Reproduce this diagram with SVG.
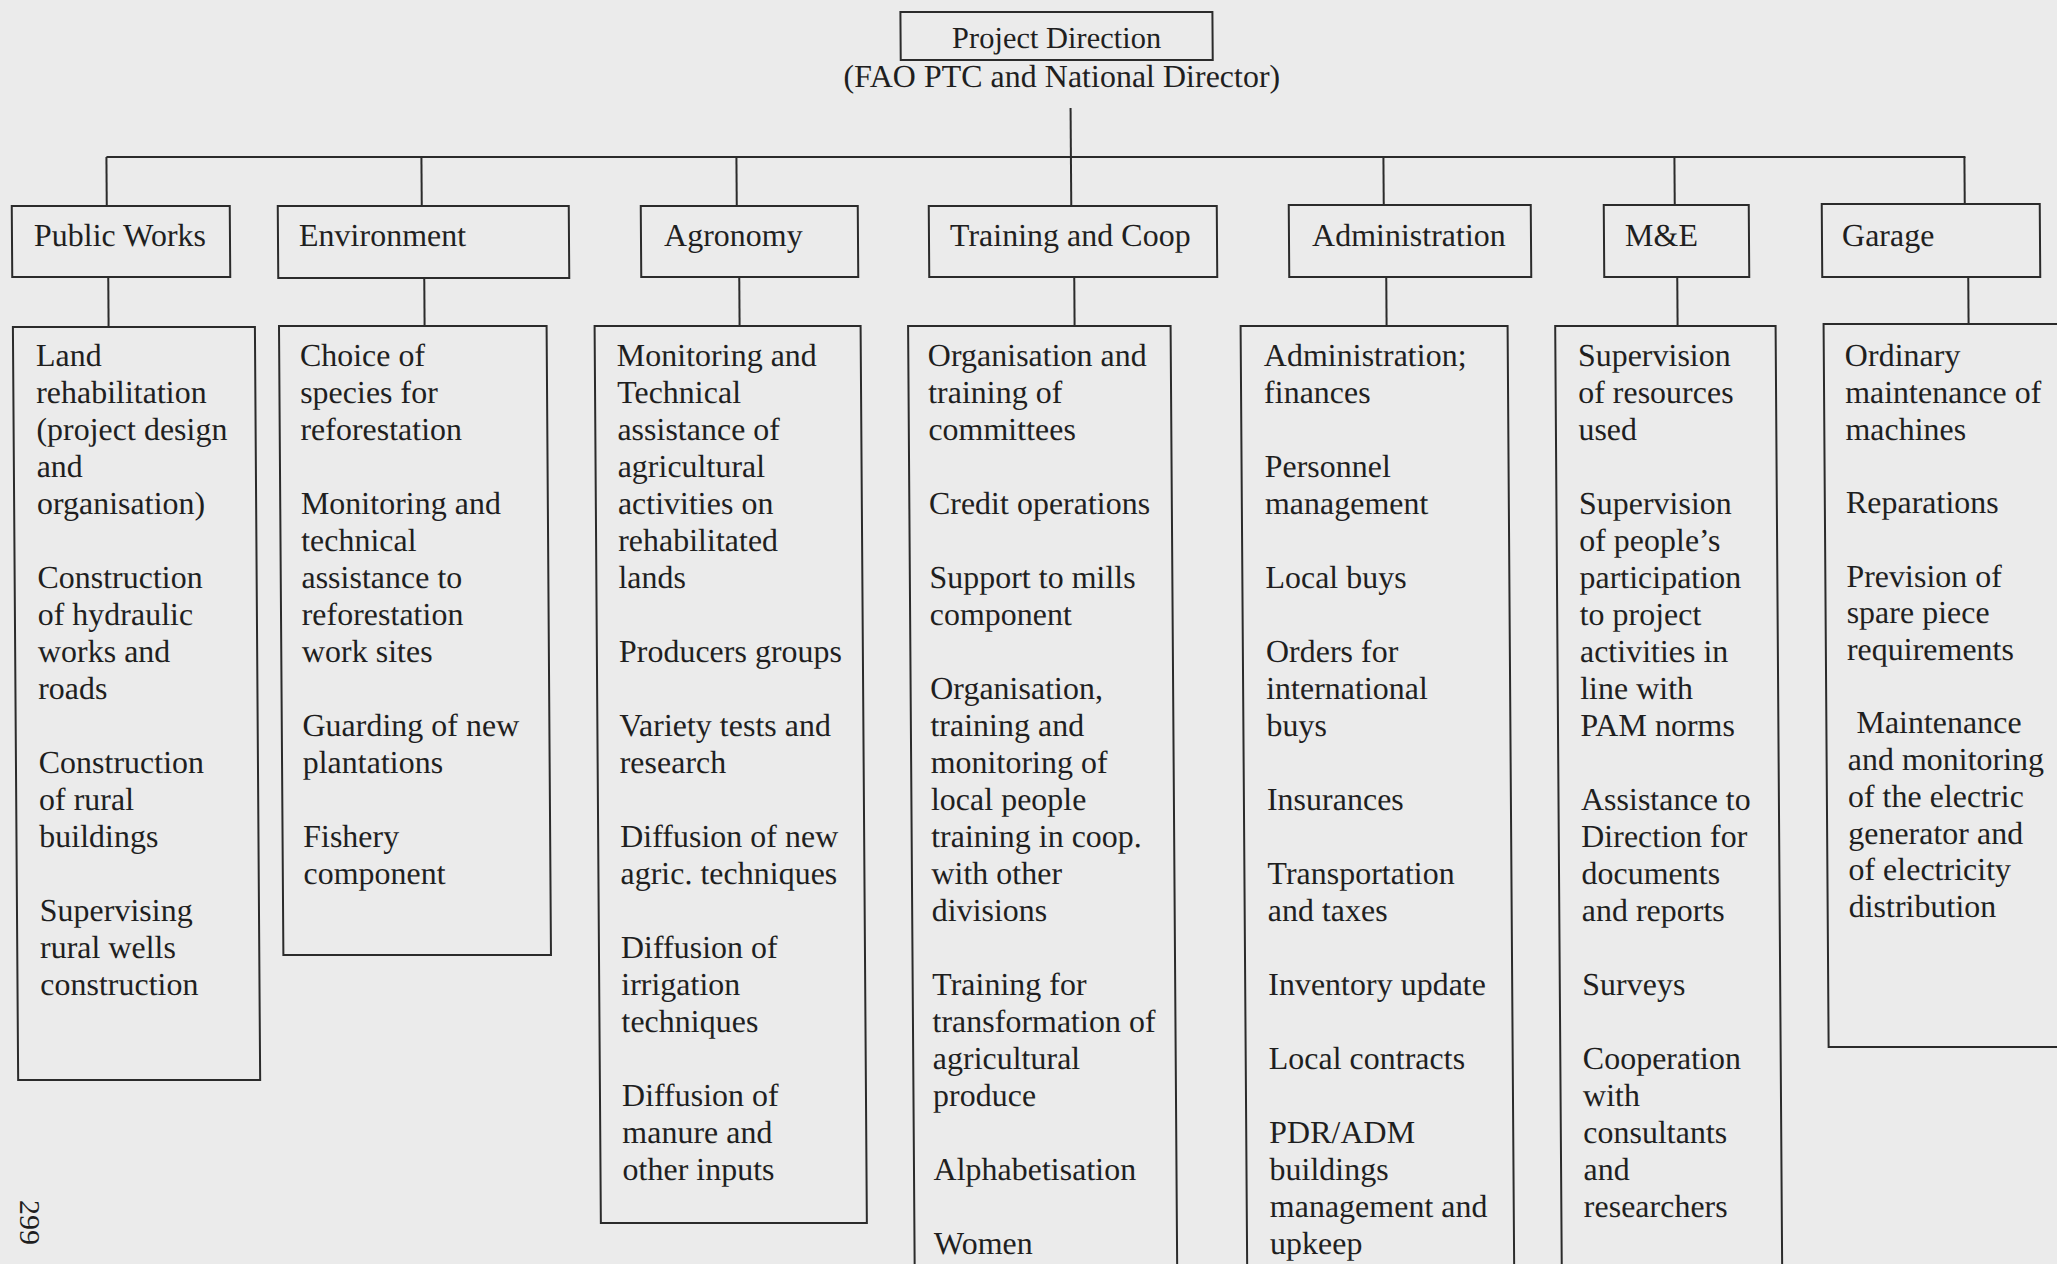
<svg xmlns="http://www.w3.org/2000/svg" width="2057" height="1264" viewBox="0 0 2057 1264">
<style>
.bx{fill:none;stroke:#2b2b2b;stroke-width:2}
.cn line{stroke:#2b2b2b;stroke-width:2}
.t{font-family:"Liberation Serif","Times New Roman",serif;font-size:32px;fill:#1f1f1f}
</style>
<rect x="0" y="0" width="2057" height="1264" fill="#ebebeb"/>
<g transform="translate(-1.68,0) skewX(0.4)">
<g id="project-direction">
<rect class="bx" x="902" y="12" width="312" height="48"/>
<text class="t" x="1058" y="48" text-anchor="middle" style="font-size:30.5px">Project Direction</text>
<text class="t" x="1063" y="87" text-anchor="middle">(FAO PTC and National Director)</text>
</g>
<g id="connectors" class="cn">
<line x1="1071.5" y1="108" x2="1071.5" y2="206"/>
<line x1="107" y1="157" x2="1966" y2="157"/>
<line x1="107" y1="157" x2="107" y2="206"/>
<line x1="422" y1="157" x2="422" y2="206"/>
<line x1="737" y1="157" x2="737" y2="206"/>
<line x1="1384" y1="157" x2="1384" y2="205"/>
<line x1="1675" y1="157" x2="1675" y2="205"/>
<line x1="1965" y1="157" x2="1965" y2="204"/>
<line x1="108" y1="277" x2="108" y2="327"/>
<line x1="424" y1="278" x2="424" y2="326"/>
<line x1="739" y1="277" x2="739" y2="326"/>
<line x1="1074" y1="277" x2="1074" y2="326"/>
<line x1="1386" y1="277" x2="1386" y2="326"/>
<line x1="1677" y1="277" x2="1677" y2="326"/>
<line x1="1968" y1="277" x2="1968" y2="324"/>
</g>
<g id="public-works">
<rect class="bx" x="12" y="206" width="218" height="71"/>
<text class="t" x="34" y="246">Public Works</text>
</g>
<g id="environment">
<rect class="bx" x="278" y="206" width="291" height="72"/>
<text class="t" x="299" y="246">Environment</text>
</g>
<g id="agronomy">
<rect class="bx" x="641" y="206" width="217" height="71"/>
<text class="t" x="664" y="246">Agronomy</text>
</g>
<g id="training">
<rect class="bx" x="929" y="206" width="288" height="71"/>
<text class="t" x="950" y="246">Training and Coop</text>
</g>
<g id="administration">
<rect class="bx" x="1289" y="205" width="242" height="72"/>
<text class="t" x="1312" y="246">Administration</text>
</g>
<g id="me">
<rect class="bx" x="1604" y="205" width="145" height="72"/>
<text class="t" x="1625" y="246">M&amp;E</text>
</g>
<g id="garage">
<rect class="bx" x="1822" y="204" width="218" height="73"/>
<text class="t" x="1842" y="246">Garage</text>
</g>
<g id="public-works-tasks">
<rect class="bx" x="12.3" y="327" width="242" height="753"/>
<text class="t">
<tspan x="35" y="366.5">Land</tspan>
<tspan x="35" y="403.5">rehabilitation</tspan>
<tspan x="35" y="440.5">(project design</tspan>
<tspan x="35" y="477.5">and</tspan>
<tspan x="35" y="514.5">organisation)</tspan>
<tspan x="35" y="588.5">Construction</tspan>
<tspan x="35" y="625.5">of hydraulic</tspan>
<tspan x="35" y="662.5">works and</tspan>
<tspan x="35" y="699.5">roads</tspan>
<tspan x="35" y="773.5">Construction</tspan>
<tspan x="35" y="810.5">of rural</tspan>
<tspan x="35" y="847.5">buildings</tspan>
<tspan x="35" y="921.5">Supervising</tspan>
<tspan x="35" y="958.5">rural wells</tspan>
<tspan x="35" y="995.5">construction</tspan>
</text>
</g>
<g id="environment-tasks">
<rect class="bx" x="278.4" y="326" width="267.6" height="629"/>
<text class="t">
<tspan x="299" y="366.5">Choice of</tspan>
<tspan x="299" y="403.5">species for</tspan>
<tspan x="299" y="440.5">reforestation</tspan>
<tspan x="299" y="514.5">Monitoring and</tspan>
<tspan x="299" y="551.5">technical</tspan>
<tspan x="299" y="588.5">assistance to</tspan>
<tspan x="299" y="625.5">reforestation</tspan>
<tspan x="299" y="662.5">work sites</tspan>
<tspan x="299" y="736.5">Guarding of new</tspan>
<tspan x="299" y="773.5">plantations</tspan>
<tspan x="299" y="847.5">Fishery</tspan>
<tspan x="299" y="884.5">component</tspan>
</text>
</g>
<g id="agronomy-tasks">
<rect class="bx" x="594" y="326" width="266" height="897"/>
<text class="t">
<tspan x="616" y="366.5">Monitoring and</tspan>
<tspan x="616" y="403.5">Technical</tspan>
<tspan x="616" y="440.5">assistance of</tspan>
<tspan x="616" y="477.5">agricultural</tspan>
<tspan x="616" y="514.5">activities on</tspan>
<tspan x="616" y="551.5">rehabilitated</tspan>
<tspan x="616" y="588.5">lands</tspan>
<tspan x="616" y="662.5">Producers groups</tspan>
<tspan x="616" y="736.5">Variety tests and</tspan>
<tspan x="616" y="773.5">research</tspan>
<tspan x="616" y="847.5">Diffusion of new</tspan>
<tspan x="616" y="884.5">agric. techniques</tspan>
<tspan x="616" y="958.5">Diffusion of</tspan>
<tspan x="616" y="995.5">irrigation</tspan>
<tspan x="616" y="1032.5">techniques</tspan>
<tspan x="616" y="1106.5">Diffusion of</tspan>
<tspan x="616" y="1143.5">manure and</tspan>
<tspan x="616" y="1180.5">other inputs</tspan>
</text>
</g>
<g id="training-tasks">
<rect class="bx" x="907.5" y="326" width="262.5" height="960"/>
<text class="t">
<tspan x="927" y="366.5">Organisation and</tspan>
<tspan x="927" y="403.5">training of</tspan>
<tspan x="927" y="440.5">committees</tspan>
<tspan x="927" y="514.5">Credit operations</tspan>
<tspan x="927" y="588.5">Support to mills</tspan>
<tspan x="927" y="625.5">component</tspan>
<tspan x="927" y="699.5">Organisation,</tspan>
<tspan x="927" y="736.5">training and</tspan>
<tspan x="927" y="773.5">monitoring of</tspan>
<tspan x="927" y="810.5">local people</tspan>
<tspan x="927" y="847.5">training in coop.</tspan>
<tspan x="927" y="884.5">with other</tspan>
<tspan x="927" y="921.5">divisions</tspan>
<tspan x="927" y="995.5">Training for</tspan>
<tspan x="927" y="1032.5">transformation of</tspan>
<tspan x="927" y="1069.5">agricultural</tspan>
<tspan x="927" y="1106.5">produce</tspan>
<tspan x="927" y="1180.5">Alphabetisation</tspan>
<tspan x="927" y="1254.5">Women</tspan>
</text>
</g>
<g id="administration-tasks">
<rect class="bx" x="1240" y="326" width="267" height="960"/>
<text class="t">
<tspan x="1263" y="366.5">Administration;</tspan>
<tspan x="1263" y="403.5">finances</tspan>
<tspan x="1263" y="477.5">Personnel</tspan>
<tspan x="1263" y="514.5">management</tspan>
<tspan x="1263" y="588.5">Local buys</tspan>
<tspan x="1263" y="662.5">Orders for</tspan>
<tspan x="1263" y="699.5">international</tspan>
<tspan x="1263" y="736.5">buys</tspan>
<tspan x="1263" y="810.5">Insurances</tspan>
<tspan x="1263" y="884.5">Transportation</tspan>
<tspan x="1263" y="921.5">and taxes</tspan>
<tspan x="1263" y="995.5">Inventory update</tspan>
<tspan x="1263" y="1069.5">Local contracts</tspan>
<tspan x="1263" y="1143.5">PDR/ADM</tspan>
<tspan x="1263" y="1180.5">buildings</tspan>
<tspan x="1263" y="1217.5">management and</tspan>
<tspan x="1263" y="1254.5">upkeep</tspan>
</text>
</g>
<g id="me-tasks">
<rect class="bx" x="1554.6" y="326" width="220.4" height="960"/>
<text class="t">
<tspan x="1577" y="366.5">Supervision</tspan>
<tspan x="1577" y="403.5">of resources</tspan>
<tspan x="1577" y="440.5">used</tspan>
<tspan x="1577" y="514.5">Supervision</tspan>
<tspan x="1577" y="551.5">of people’s</tspan>
<tspan x="1577" y="588.5">participation</tspan>
<tspan x="1577" y="625.5">to project</tspan>
<tspan x="1577" y="662.5">activities in</tspan>
<tspan x="1577" y="699.5">line with</tspan>
<tspan x="1577" y="736.5">PAM norms</tspan>
<tspan x="1577" y="810.5">Assistance to</tspan>
<tspan x="1577" y="847.5">Direction for</tspan>
<tspan x="1577" y="884.5">documents</tspan>
<tspan x="1577" y="921.5">and reports</tspan>
<tspan x="1577" y="995.5">Surveys</tspan>
<tspan x="1577" y="1069.5">Cooperation</tspan>
<tspan x="1577" y="1106.5">with</tspan>
<tspan x="1577" y="1143.5">consultants</tspan>
<tspan x="1577" y="1180.5">and</tspan>
<tspan x="1577" y="1217.5">researchers</tspan>
</text>
</g>
<g id="garage-tasks">
<rect class="bx" x="1823" y="324" width="260" height="723"/>
<text class="t">
<tspan x="1844" y="366.5">Ordinary</tspan>
<tspan x="1844" y="403.2">maintenance of</tspan>
<tspan x="1844" y="439.9">machines</tspan>
<tspan x="1844" y="513.3">Reparations</tspan>
<tspan x="1844" y="586.7">Prevision of</tspan>
<tspan x="1844" y="623.4">spare piece</tspan>
<tspan x="1844" y="660.1">requirements</tspan>
<tspan x="1853" y="733.5">Maintenance</tspan>
<tspan x="1844" y="770.2">and monitoring</tspan>
<tspan x="1844" y="806.9">of the electric</tspan>
<tspan x="1844" y="843.6">generator and</tspan>
<tspan x="1844" y="880.3">of electricity</tspan>
<tspan x="1844" y="917">distribution</tspan>
</text>
</g>
</g>
<text class="t" transform="translate(20,1200) rotate(90)" style="font-size:30px">299</text>
</svg>
